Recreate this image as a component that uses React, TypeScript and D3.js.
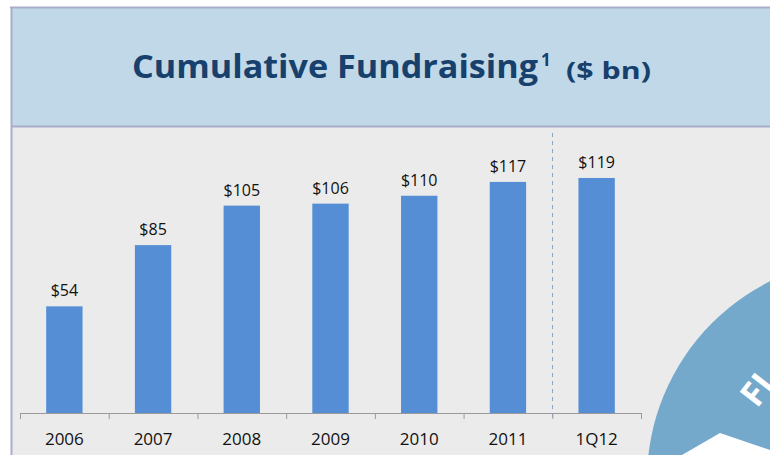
import * as d3 from "d3";
import React from "react";

const categories = ["2006", "2007", "2008", "2009", "2010", "2011", "1Q12"];
const values = [54, 85, 105, 106, 110, 117, 119];
const valueLabels = ["$54", "$85", "$105", "$106", "$110", "$117", "$119"];

const W = 770;
const H = 455;

export default function App() {
  const svgRef = React.useRef<SVGSVGElement | null>(null);

  React.useEffect(() => {
    const svg = d3.select(svgRef.current);
    svg.selectAll("*").remove();

    // frame + header
    svg.append("rect").attr("width", W).attr("height", H).attr("fill", "#ffffff");
    svg.append("rect").attr("x", 12).attr("y", 8).attr("width", W - 12).attr("height", H - 8).attr("fill", "#ebebeb");
    svg.append("rect").attr("x", 12).attr("y", 8).attr("width", W - 12).attr("height", 118).attr("fill", "#c1d8e8");
    svg.append("line").attr("x1", 10).attr("x2", W).attr("y1", 7.5).attr("y2", 7.5).attr("stroke", "#a9aecb").attr("stroke-width", 2);
    svg.append("line").attr("x1", 12).attr("x2", W).attr("y1", 126.5).attr("y2", 126.5).attr("stroke", "#a9aecb").attr("stroke-width", 2);
    svg.append("line").attr("x1", 11.5).attr("x2", 11.5).attr("y1", 7).attr("y2", H).attr("stroke", "#a9aecb").attr("stroke-width", 2);

    const titleFont = "'Open Sans', sans-serif";
    svg
      .append("text")
      .attr("x", 132)
      .attr("y", 78)
      .attr("fill", "#17406d")
      .attr("font-family", titleFont)
      .attr("font-weight", "bold")
      .attr("font-size", 33)
      .attr("textLength", 406)
      .attr("lengthAdjust", "spacingAndGlyphs")
      .text("Cumulative Fundraising");
    svg
      .append("text")
      .attr("x", 541)
      .attr("y", 66)
      .attr("fill", "#17406d")
      .attr("font-family", titleFont)
      .attr("font-weight", "bold")
      .attr("font-size", 17)
      .text("1");
    svg
      .append("text")
      .attr("x", 566)
      .attr("y", 79)
      .attr("fill", "#17406d")
      .attr("font-family", titleFont)
      .attr("font-weight", "bold")
      .attr("font-size", 24)
      .attr("textLength", 85)
      .attr("lengthAdjust", "spacingAndGlyphs")
      .text("($ bn)");

    // decorative circle on the right
    svg.append("circle").attr("cx", 869).attr("cy", 480).attr("r", 222).attr("fill", "#74a9cc");
    svg
      .append("polygon")
      .attr("points", "682,455 720,433 770,450 770,455")
      .attr("fill", "#ffffff");
    svg
      .append("text")
      .attr("transform", "translate(757,409) rotate(-52)")
      .attr("fill", "#ffffff")
      .attr("font-family", titleFont)
      .attr("font-weight", "bold")
      .attr("font-size", 34)
      .text("FI");

    // chart
    const x = d3.scaleBand().domain(categories).range([20, 641]).paddingInner(0.59).paddingOuter(0.295);
    const y = d3.scaleLinear().domain([0, 140]).range([413, 136.5]);
    const step = x.step();

    const g = svg.append("g");

    g.append("line")
      .attr("x1", 552.5)
      .attr("x2", 552.5)
      .attr("y1", 133)
      .attr("y2", 420)
      .attr("stroke", "#8aa6c8")
      .attr("stroke-dasharray", "4,4");

    g.selectAll(".bar")
      .data(values)
      .join("rect")
      .attr("x", (_, i) => x(categories[i])!)
      .attr("y", (d) => y(d))
      .attr("width", x.bandwidth())
      .attr("height", (d) => y(0) - y(d))
      .attr("fill", "#558ed5");

    g.selectAll(".vlabel")
      .data(values)
      .join("text")
      .attr("x", (_, i) => x(categories[i])! + x.bandwidth() / 2)
      .attr("y", (d) => y(d) - 10)
      .attr("text-anchor", "middle")
      .attr("font-family", "'Open Sans', sans-serif")
      .attr("font-size", 16)
      .attr("fill", "#111")
      .text((_, i) => valueLabels[i]);

    const axis = g.append("g").attr("transform", `translate(0,${y(0)})`);
    axis.append("line").attr("x1", 20).attr("x2", 641).attr("y1", 0.5).attr("y2", 0.5).attr("stroke", "#9a9a9a");
    axis
      .selectAll(".tick")
      .data(d3.range(categories.length + 1))
      .join("line")
      .attr("x1", (i) => 20 + i * step + 0.5)
      .attr("x2", (i) => 20 + i * step + 0.5)
      .attr("y1", 0)
      .attr("y2", 6)
      .attr("stroke", "#9a9a9a");
    axis
      .selectAll(".clabel")
      .data(categories)
      .join("text")
      .attr("x", (d) => x(d)! + x.bandwidth() / 2)
      .attr("y", 32)
      .attr("text-anchor", "middle")
      .attr("font-family", "'Open Sans', sans-serif")
      .attr("font-size", 17)
      .attr("fill", "#111")
      .text((d) => d);
  }, []);

  return (
    <svg
      ref={svgRef}
      width={W}
      height={H}
      style={{ position: "absolute", left: 0, top: 0 }}
    />
  );
}
